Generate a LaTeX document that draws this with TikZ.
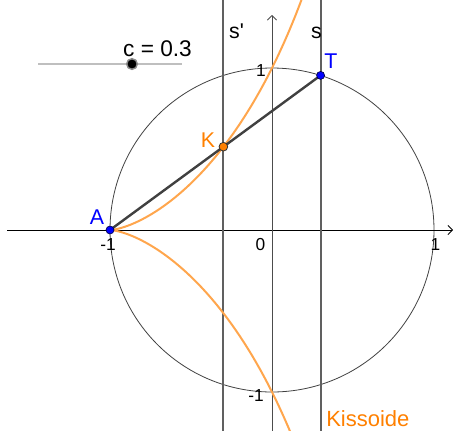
\documentclass[tikz,border=0pt]{standalone}
\usepackage{fontspec}
\setmainfont{Liberation Sans}
\usetikzlibrary{arrows.meta}
\definecolor{ggorange}{RGB}{255,128,0}
\definecolor{curveor}{RGB}{255,166,77}
\definecolor{ptblue}{RGB}{0,0,255}
\definecolor{sline}{RGB}{96,96,96}
\definecolor{seggray}{RGB}{64,64,64}
\begin{document}
\begin{tikzpicture}[x=0.75pt,y=-0.75pt,
  axis/.style={line width=0.75pt,-{Straight Barb[length=3.4pt,width=7pt,line width=0.6pt]}},
  vline/.style={sline,line width=1.5pt},
  lbl/.style={anchor=base,inner sep=0pt,font=\fontsize{16}{16}\selectfont},
  num/.style={anchor=base,inner sep=0pt,font=\fontsize{13}{13}\selectfont},
  ptA/.style={circle,fill=ptblue,draw=black!70!blue,line width=0.5pt,inner sep=0pt,minimum size=6pt},
  ptK/.style={circle,fill=ggorange,draw=black!80,line width=0.6pt,inner sep=0pt,minimum size=6.5pt},
  kiss/.style={curveor,line width=1.5pt}]
\useasboundingbox (0,0) rectangle (454,430);
\begin{scope}
\clip (0,0) rectangle (454,430);
% circle
\draw[black!75,line width=0.6pt] (272,230) circle[radius=121.5pt];
% axes
\coordinate (xl) at (7,230);
\coordinate (xr) at (453,230);
\coordinate (yb) at (272,432);
\coordinate (yt) at (272,15);
\draw[axis,black] (xl) -- (xr);
\draw[axis,black!70] (yb) -- (yt);
% s and s'
\coordinate (sb) at (320.6,432);
\coordinate (st) at (320.6,-2);
\coordinate (spb) at (223.4,432);
\coordinate (spt) at (223.4,-2);
\draw[vline] (sb) -- (st);
\draw[vline] (spb) -- (spt);
% kissoid
\draw[kiss] plot[domain=-0.3:1,samples=300] ({272-162*\x},{230-162*(1-\x)*sqrt(1-\x)/sqrt(1+\x)});
\draw[kiss] plot[domain=-0.3:1,samples=300] ({272-162*\x},{230+162*(1-\x)*sqrt(1-\x)/sqrt(1+\x)});
\end{scope}
% segment
\coordinate (Ac) at (110,230);
\coordinate (Tc) at (320.6,75.4);
\draw[seggray,line width=1.8pt] (Ac) -- (Tc);
\node[ptA] (A) at (Ac) {};
\node[ptA] (T) at (Tc) {};
\node[ptK] (K) at (223.4,146.7) {};
% slider
\coordinate (sl1) at (38,64);
\coordinate (sl2) at (182,64);
\draw[black!25,line width=0.9pt] (sl1) -- (sl2);
\node[circle,fill=black,draw=black!45,line width=1.1pt,inner sep=0pt,minimum size=8pt] (knob) at (132,64) {};
\node[anchor=base,inner sep=0pt,font=\fontsize{17}{17}\selectfont] (cval) at (157.5,56) {c = 0.3};
% labels
\node[lbl] (lsp) at (236.5,38) {s\textquotesingle};
\node[lbl] (ls) at (316.5,38) {s};
\node[lbl,ptblue] (lT) at (331,68) {T};
\node[lbl,ptblue] (lA) at (97,224) {A};
\node[lbl,ggorange] (lK) at (208,147) {K};
\node[num] (n1) at (108,250) {-1};
\node[num] (n0) at (260.5,250) {0};
\node[num] (n2) at (435.5,250) {1};
\node[num] (n3) at (261,76) {1};
\node[num] (n4) at (256,401) {-1};
\node[anchor=base west,inner sep=0pt,ggorange,font=\fontsize{16.5}{16.5}\selectfont] (lkiss) at (326,426) {Kissoide};
\end{tikzpicture}
\end{document}
